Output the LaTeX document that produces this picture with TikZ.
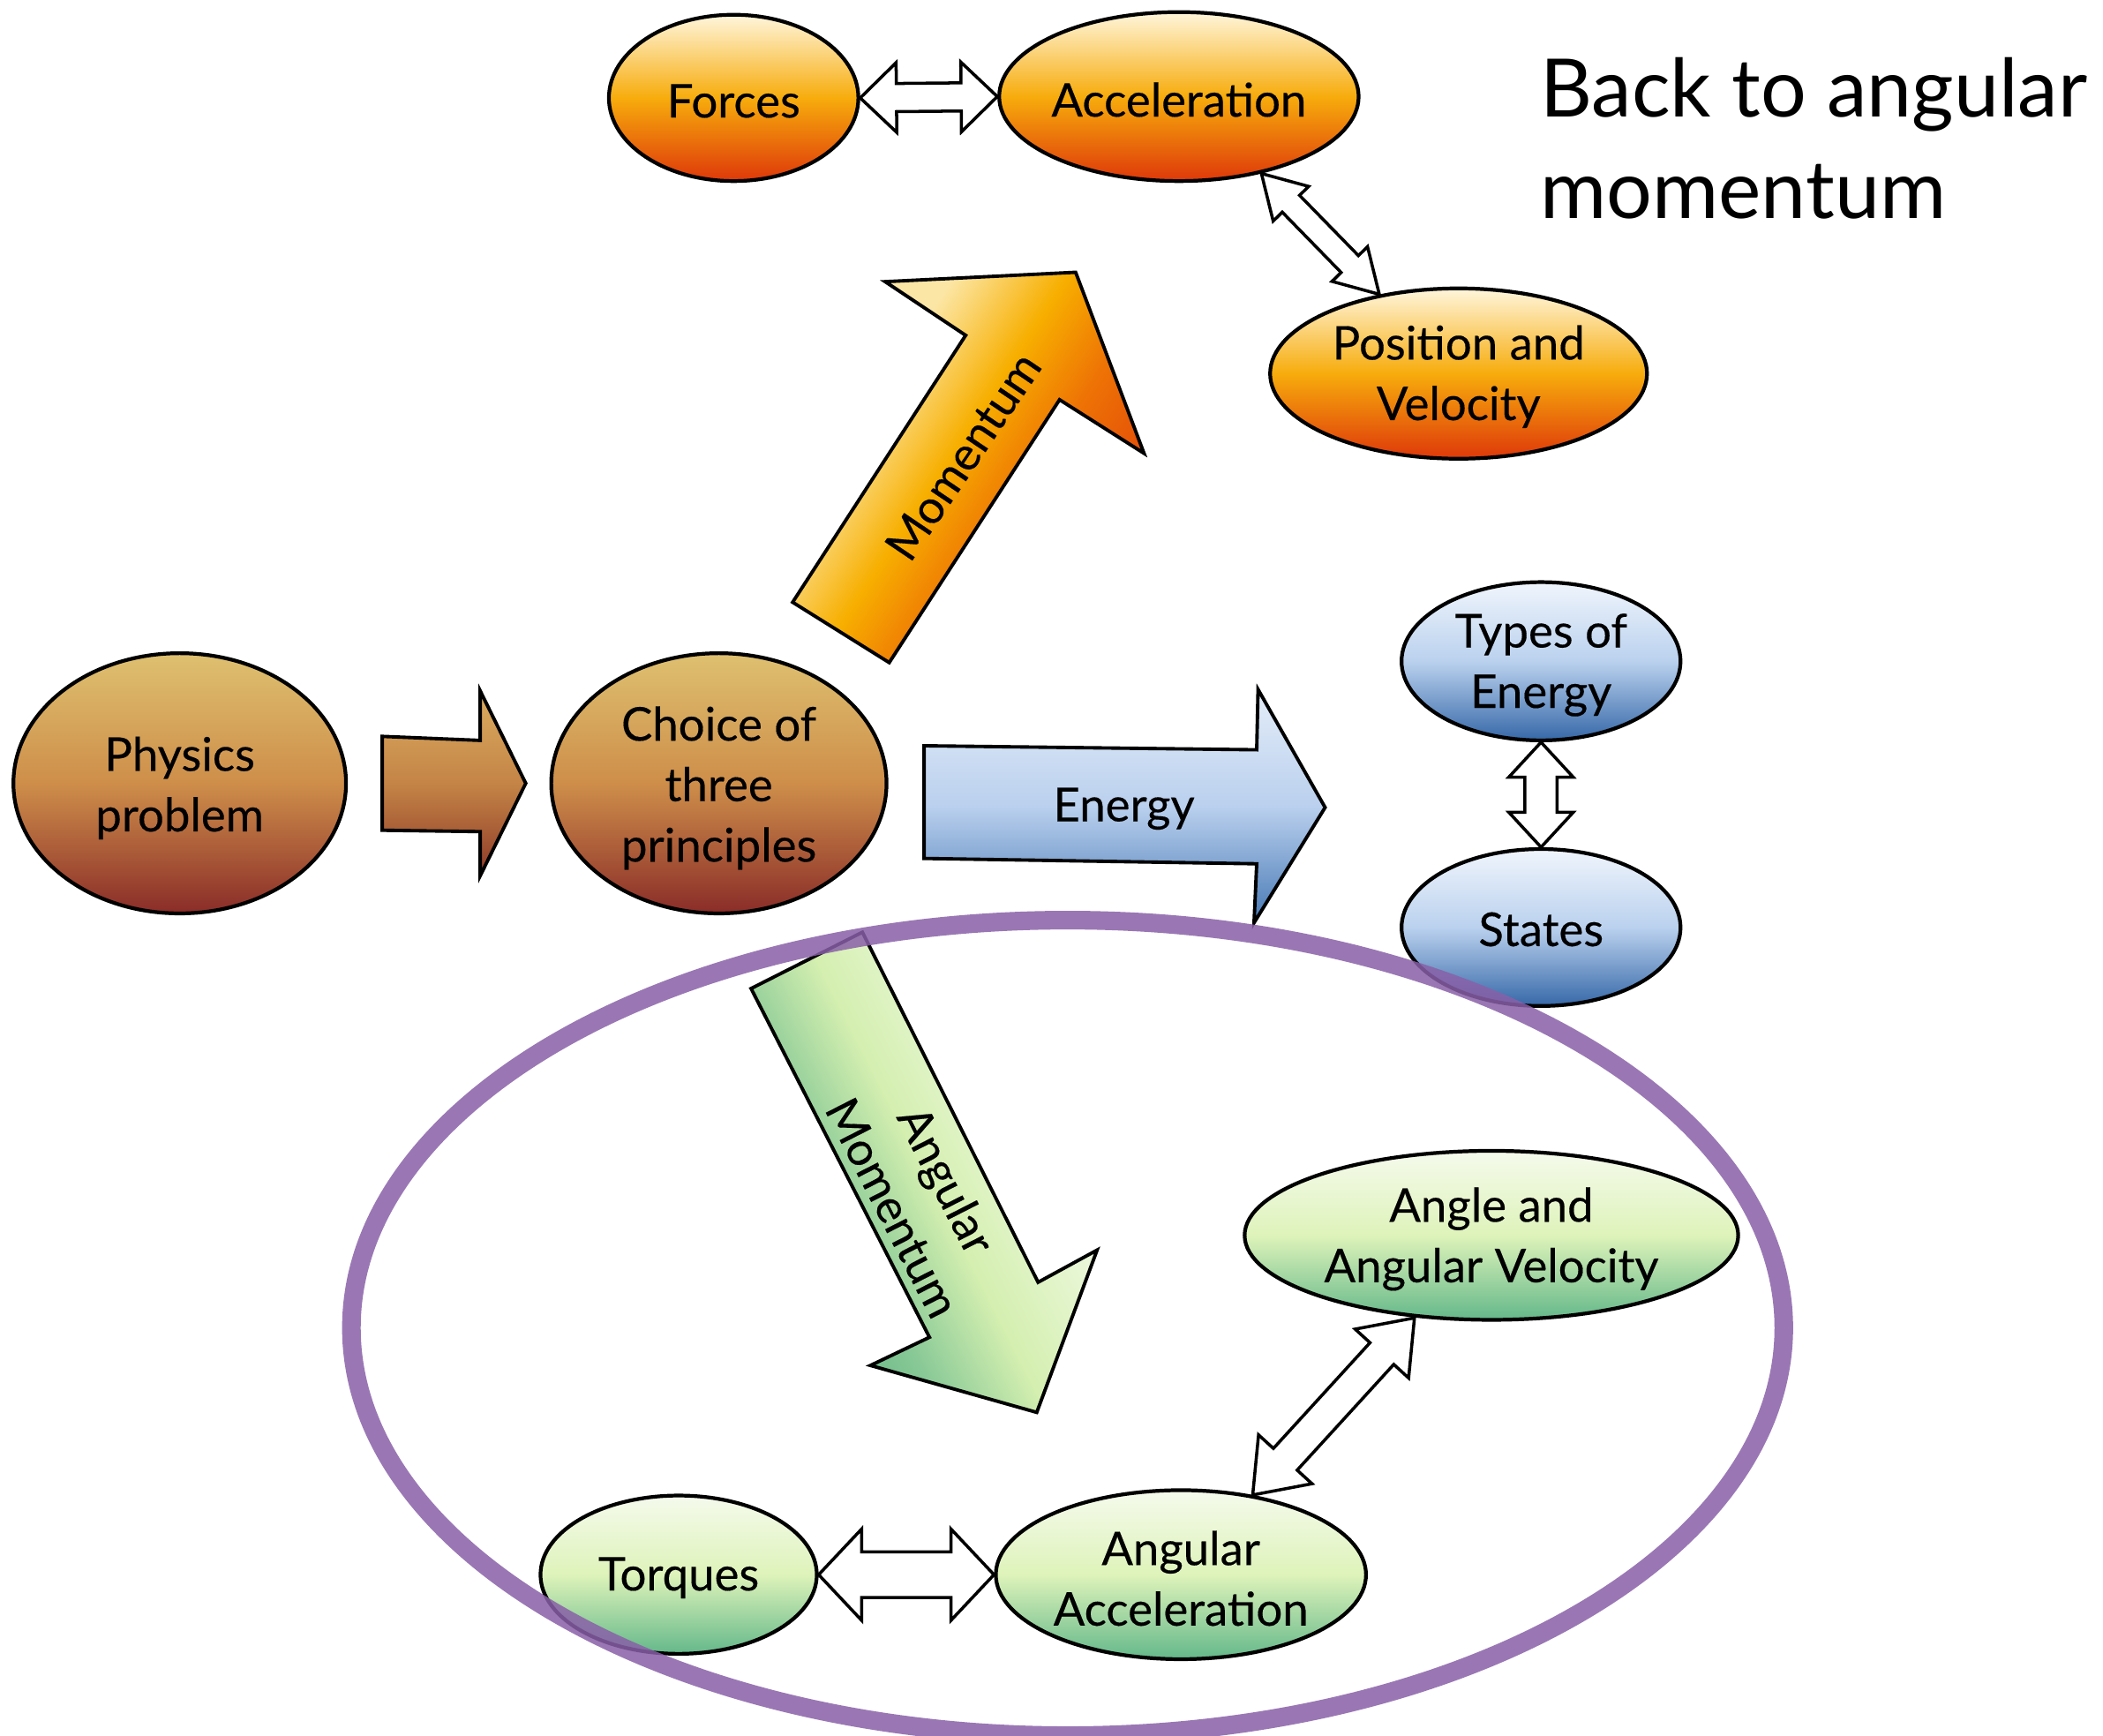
\documentclass[tikz,border=0pt]{standalone}
\usepackage{fontspec}
\setmainfont{Lato}
\newfontfamily\lblfont{Lato}[FakeBold=0.3]
\usetikzlibrary{shapes.geometric,calc}
\definecolor{orT}{RGB}{255,246,220}
\definecolor{orM}{RGB}{247,172,12}
\definecolor{orB}{RGB}{222,56,10}
\definecolor{brT}{RGB}{222,192,112}
\definecolor{brM}{RGB}{206,142,74}
\definecolor{brB}{RGB}{138,44,40}
\definecolor{blT}{RGB}{240,245,252}
\definecolor{blM}{RGB}{186,209,238}
\definecolor{blB}{RGB}{54,104,168}
\definecolor{grT}{RGB}{245,250,236}
\definecolor{grM}{RGB}{222,243,186}
\definecolor{grB}{RGB}{100,184,138}
\definecolor{ebT}{RGB}{228,237,248}
\definecolor{ebM}{RGB}{186,208,238}
\definecolor{ebB}{RGB}{70,120,180}
\definecolor{baT}{RGB}{218,172,96}
\definecolor{baM}{RGB}{196,132,70}
\definecolor{baB}{RGB}{142,58,40}
\definecolor{ringc}{RGB}{137,96,168}
\pgfdeclarehorizontalshading{momshade}{100bp}{%
  rgb(0bp)=(0.988,0.902,0.647); rgb(34bp)=(0.988,0.902,0.647);
  rgb(47bp)=(0.969,0.686,0.0); rgb(58bp)=(0.933,0.451,0.02);
  rgb(77bp)=(0.871,0.216,0.039); rgb(100bp)=(0.871,0.216,0.039)}
\pgfdeclarehorizontalshading{angshade}{100bp}{%
  rgb(0bp)=(0.361,0.698,0.502); rgb(27bp)=(0.361,0.698,0.502);
  rgb(38bp)=(0.529,0.784,0.588); rgb(50bp)=(0.831,0.937,0.690);
  rgb(60bp)=(0.894,0.961,0.804); rgb(70bp)=(0.961,0.980,0.933);
  rgb(100bp)=(0.961,0.980,0.933)}
\newcommand\dblarrow[5]{%
  \path let \p1=(#1), \p2=(#2) in \pgfextra{%
    \pgfmathsetmacro\tmpA{atan2(\y2-\y1,\x2-\x1)}\global\let\dbA\tmpA
    \pgfmathsetmacro\tmpL{veclen(\x2-\x1,\y2-\y1)/0.43245}\global\let\dbL\tmpL
    \xdef\dbX{\x1}\xdef\dbY{\y1}};
  \begin{scope}[shift={(\dbX,\dbY)}, rotate=\dbA, x=0.43245pt, y=0.43245pt]
    \draw[dbl] (0,0) -- (#3,#4) -- (#3,#5) -- (\dbL-#3,#5) -- (\dbL-#3,#4) -- (\dbL,0)
      -- (\dbL-#3,-#4) -- (\dbL-#3,-#5) -- (#3,-#5) -- (#3,-#4) -- cycle;
  \end{scope}}
\begin{document}
\begin{tikzpicture}[x=0.015198cm,y=-0.015198cm,
  ell/.style 2 args={ellipse, draw, line width=1.2pt, inner sep=0pt,
    minimum width={#1*0.015198cm}, minimum height={#2*0.015198cm}},
  orangefill/.style={top color=orT, bottom color=orB, middle color=orM},
  brownfill/.style={top color=brT, bottom color=brB, middle color=brM},
  bluefill/.style={top color=blT, bottom color=blB, middle color=blM},
  greenfill/.style={top color=grT, bottom color=grB, middle color=grM},
  blk/.style={draw, line width=1.1pt},
  dbl/.style={draw, fill=white, line width=1pt, line join=miter},
  lbl/.style={font=\lblfont\fontsize{15}{19.5}\selectfont, align=center, inner sep=0pt},
  ttl/.style={font=\fontsize{26}{32}\selectfont, inner sep=0pt, anchor=base west},
  ring/.style={draw=ringc, line width=6pt, opacity=0.85}]
\useasboundingbox (0,0) rectangle (1568,1294);
\clip (0,0) rectangle (1568,1294);
\fill[white] (0,0) rectangle (1568,1294);

% ellipses
\node[ell={186}{124}, orangefill] (forces) at (547,73) {};
\node[ell={268}{126}, orangefill] (accel) at (879,72) {};
\node[ell={281}{127}, orangefill] (pos) at (1087.5,278.5) {};
\node[ell={248}{194}, brownfill] (phys) at (134,584) {};
\node[ell={250}{194}, brownfill] (choice) at (536,584) {};
\node[ell={208}{118}, bluefill] (types) at (1149,493) {};
\node[ell={208}{117}, bluefill] (states) at (1149,691.5) {};
\node[ell={368}{126}, greenfill] (angvel) at (1112,921) {};
\node[ell={206}{118}, greenfill] (torq) at (506,1174) {};
\node[ell={276}{126}, greenfill] (angacc) at (880.5,1174) {};

\node[lbl] (forcesT) at ([yshift=-1pt]forces.center) {Forces};
\node[lbl] (accelT) at ([yshift=-1pt]accel.center) {Acceleration};
\node[lbl] (posT) at ([yshift=-1pt]pos.center) {Position and\\Velocity};
\node[lbl] (physT) at ([yshift=-1.5pt]phys.center) {Physics\\problem};
\node[lbl] (choiceT) at ([yshift=-1.5pt]choice.center) {Choice of\\three\\principles};
\node[lbl] (typesT) at ([yshift=-1.2pt]types.center) {Types of\\Energy};
\node[lbl] (statesT) at ([yshift=-0.6pt]states.center) {States};
\node[lbl] (angvelT) at ([yshift=-1.2pt]angvel.center) {Angle and\\Angular Velocity};
\node[lbl] (torqT) at ([yshift=-1pt]torq.center) {Torques};
\node[lbl] (angaccT) at ([yshift=-1.2pt]angacc.center) {Angular\\Acceleration};

% block arrows
\draw[blk, top color=baT, bottom color=baB, middle color=baM]
  (285,549) -- (358,552) -- (358,515) -- (392,584) -- (358,653) -- (358,620) -- (285,619) -- cycle;
\draw[blk, top color=ebT, bottom color=ebB, middle color=ebM]
  (689,556) -- (937,559) -- (938,514) -- (988,602) -- (935,688) -- (937,644) -- (689,640) -- cycle;
\node[lbl] (energy) at (838,603) {Energy};
\draw[blk, shading=momshade, shading angle=-33]
  (591,449) -- (720,250) -- (660,210) -- (802,203) -- (853,338) -- (790,298) -- (663,494) -- cycle;
\node[lbl, rotate=56] (mom) at (718,340) {Momentum};
\draw[blk, shading=angshade, shading angle=27]
  (560,737) -- (643,695) -- (774,956) -- (818,932) -- (773,1053) -- (649,1018) -- (693,997) -- cycle;
\node[lbl, rotate=-63] (angmom) at (686,890) {Angular\\Momentum};

% double arrows
\dblarrow{forces.east}{accel.west}{27}{26}{10.5}
\dblarrow{accel.-43.5}{pos.135.5}{31.5}{18.5}{9}
\dblarrow{types.south}{states.north}{26}{24}{12}
\dblarrow{torq.east}{angacc.west}{32}{34}{17}
\dblarrow{angacc.48}{angvel.-133}{36}{27}{12}

% ring
\draw[ring] (796,990) ellipse [x radius=534, y radius=304];

% title
\node[ttl] (t1) at (1148,87) {Back to angular};
\node[ttl] (t2) at (1148,163) {momentum};
\end{tikzpicture}
\end{document}
